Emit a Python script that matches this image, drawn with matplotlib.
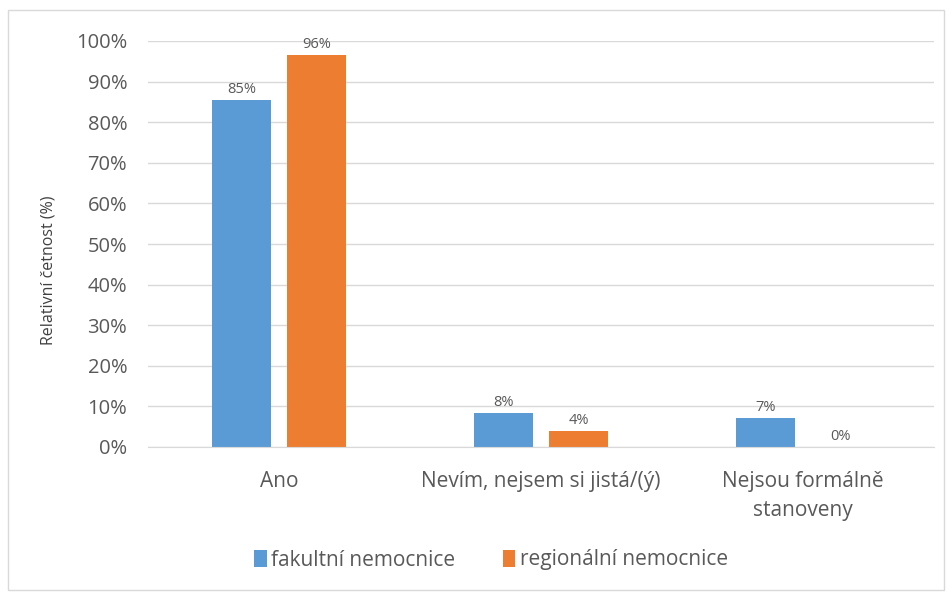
import matplotlib.pyplot as plt
import numpy as np
from matplotlib.patches import Rectangle

plt.rcParams['font.family'] = ['Open Sans', 'DejaVu Sans']

categories = ["Ano", "Nevím, nejsem si jistá/(ý)", "Nejsou formálně\nstanoveny"]
fakultni = [85.5, 8.4, 7.1]
regionalni = [96.5, 3.9, 0.0]
labels_fak = ["85%", "8%", "7%"]
labels_reg = ["96%", "4%", "0%"]

blue = '#5b9bd5'
orange = '#ed7d31'
text_col = '#595959'

fig = plt.figure(figsize=(9.49, 5.92), dpi=100)
ax = fig.add_axes([148 / 949, 1 - 447 / 592, (934 - 148) / 949, (447 - 41) / 592])

# outer frame like in the original
fig.patches.append(Rectangle((8 / 949, 2 / 592), 936 / 949, 580 / 592, transform=fig.transFigure,
                             fill=False, edgecolor='#d9d9d9', linewidth=1))

x = np.arange(len(categories))
w = 0.222
off = 0.143
b1 = ax.bar(x - off, fakultni, w, color=blue, label="fakultní nemocnice")
b2 = ax.bar(x + off, regionalni, w, color=orange, label="regionální nemocnice")

for bars, labs in [(b1, labels_fak), (b2, labels_reg)]:
    for rect, lab in zip(bars, labs):
        ax.text(rect.get_x() + rect.get_width() / 2, rect.get_height() + 0.8, lab,
                ha='center', va='bottom', fontsize=10.5, color=text_col)

ax.set_xlim(-0.5, 2.5)
ax.set_ylim(0, 100)
ax.set_yticks(np.arange(0, 101, 10))
ax.set_yticklabels([f"{v}%" for v in range(0, 101, 10)])
ax.set_xticks(x)
ax.set_xticklabels(categories, linespacing=1.55)
ax.tick_params(axis='both', length=0, labelsize=14.5, colors=text_col)
ax.tick_params(axis='x', pad=17, labelsize=15)
ax.tick_params(axis='y', pad=15)
ax.grid(axis='y', color='#d9d9d9', linewidth=1)
ax.set_axisbelow(True)
for s in ['top', 'right', 'left']:
    ax.spines[s].set_visible(False)
ax.spines['bottom'].set_color('#d9d9d9')

fig.text(49 / 949, 1 - 270 / 592, "Relativní četnost (%)", rotation=90, ha='center', va='center',
         fontsize=11.5, color='#404040')

leg = fig.legend(loc='center', bbox_to_anchor=(491 / 949, 1 - 560 / 592), ncol=2, frameon=False,
                 fontsize=15, handlelength=0.6, handleheight=0.9, handletextpad=0.2, columnspacing=2.3,
                 labelcolor=text_col)

fig.savefig("out.png", dpi=100)
